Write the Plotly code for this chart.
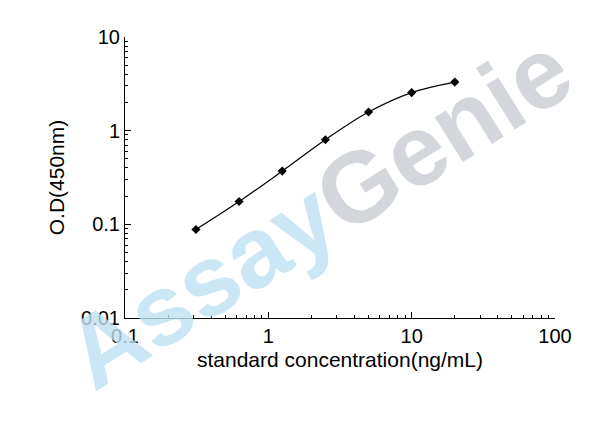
import plotly.graph_objects as go

# standard curve points
concentration = [0.3125, 0.625, 1.25, 2.5, 5, 10, 20]
od_450 = [0.088, 0.175, 0.37, 0.80, 1.58, 2.55, 3.3]

x_ticks = [0.1, 1, 10, 100]
x_labels = ["0.1", "1", "10", "100"]
y_ticks = [0.01, 0.1, 1, 10]
y_labels = ["0.01", "0.1", "1", "10"]


def minor_vals(lo, hi):
    vals = []
    for e in range(lo, hi):
        for m in range(2, 10):
            vals.append(m * 10 ** e)
    return vals


fig = go.Figure()

fig.add_trace(
    go.Scatter(
        x=concentration,
        y=od_450,
        mode="lines+markers",
        line=dict(color="black", width=1.2, shape="spline"),
        marker=dict(symbol="diamond", size=7, color="black"),
        showlegend=False
    )
)

axis_style = dict(
    type="log",
    showline=True,
    linecolor="black",
    linewidth=1,
    ticks="inside",
    ticklen=6,
    tickcolor="black",
    showgrid=False,
    zeroline=False,
    tickfont=dict(size=20, color="black"),
    title_font=dict(size=21, color="black")
)

fig.update_xaxes(
    **axis_style,
    range=[-1, 2],
    tickvals=x_ticks,
    ticktext=x_labels,
    minor=dict(ticks="inside", ticklen=3, tickcolor="black", showgrid=False,
               tickvals=minor_vals(-1, 2)),
    title_text="standard concentration(ng/mL)",
    title_standoff=6
)
fig.update_yaxes(
    **axis_style,
    range=[-2, 1],
    tickvals=y_ticks,
    ticktext=y_labels,
    minor=dict(ticks="inside", ticklen=3, tickcolor="black", showgrid=False,
               tickvals=minor_vals(-2, 1)),
    title_text="O.D(450nm)",
    title_standoff=10
)

fig.update_layout(
    width=590,
    height=433,
    margin=dict(l=117, r=43, t=29, b=123),
    paper_bgcolor="white",
    plot_bgcolor="white",
    font_family="Liberation Sans",
    annotations=[
        dict(
            x=0.45,
            y=0.38,
            xref="paper",
            yref="paper",
            text="<b><span style='color:#bfe0f2'>Assay</span>"
                 "<span style='color:#c9cdd1'>Genie</span></b>",
            textangle=-32,
            font=dict(size=100, family="Liberation Sans"),
            showarrow=False,
            opacity=0.8
        )
    ]
)

fig.write_html("out.html")
